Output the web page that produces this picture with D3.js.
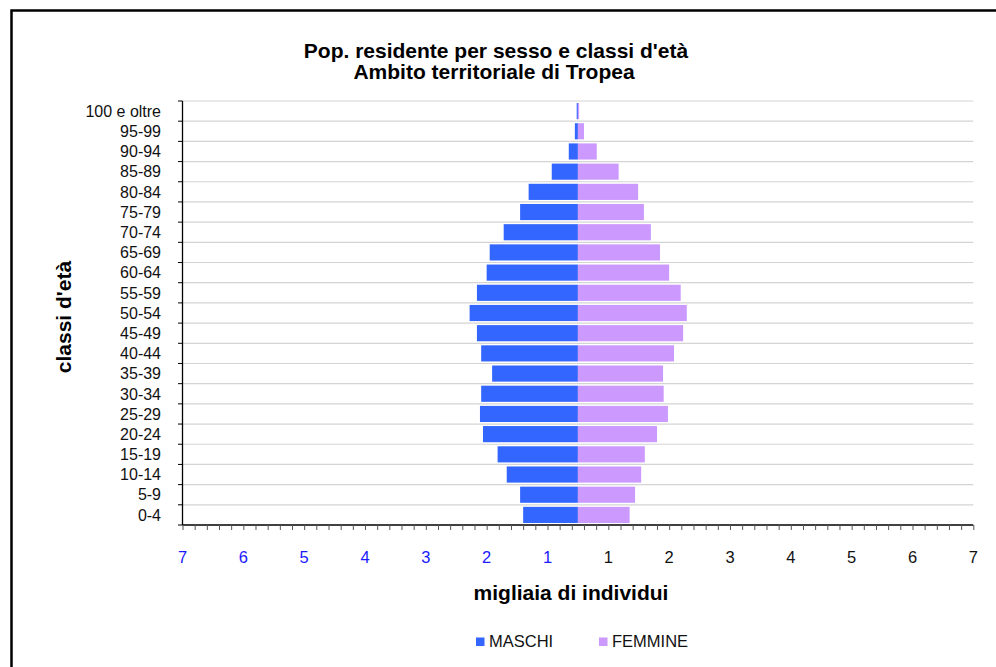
<!DOCTYPE html>
<html>
<head>
<meta charset="utf-8">
<script src="https://cdn.jsdelivr.net/npm/d3@7"></script>
<style>
  html, body { margin: 0; padding: 0; background: #fff; }
  svg { display: block; font-family: "Liberation Sans", Arial, sans-serif; }
</style>
</head>
<body>
<svg id="chart" width="996" height="667"></svg>
<script>
// ---- data (thousands of residents) ----
const ageClasses = ["0-4","5-9","10-14","15-19","20-24","25-29","30-34","35-39","40-44","45-49",
  "50-54","55-59","60-64","65-69","70-74","75-79","80-84","85-89","90-94","95-99","100 e oltre"];
const maschi  = [0.90, 0.95, 1.17, 1.32, 1.56, 1.61, 1.59, 1.41, 1.59, 1.66,
  1.78, 1.66, 1.50, 1.45, 1.22, 0.95, 0.81, 0.43, 0.15, 0.05, 0.02];
const femmine = [0.85, 0.94, 1.04, 1.10, 1.30, 1.48, 1.41, 1.40, 1.58, 1.73,
  1.79, 1.69, 1.50, 1.35, 1.20, 1.085, 0.99, 0.67, 0.31, 0.10, 0.02];
const tickValues = [-6.5,-5.5,-4.5,-3.5,-2.5,-1.5,-0.5,0.5,1.5,2.5,3.5,4.5,5.5,6.5];
const tickLabels = ["7","6","5","4","3","2","1","1","2","3","4","5","6","7"];
const seriesNames = ["MASCHI", "FEMMINE"];
const titleLines = ["Pop. residente per sesso e classi d'età", "Ambito territoriale di Tropea"];
const xTitle = "migliaia di individui";
const yTitle = "classi d'età";

const colors = { MASCHI: "#3366FF", FEMMINE: "#CC99FF" };

const svg = d3.select("#chart");

// frame
svg.append("rect").attr("x", 11.5).attr("y", 10.5).attr("width", 1100).attr("height", 800)
  .attr("fill", "none").attr("stroke", "#000").attr("stroke-width", 2.5);

const pLeft = 182.5, pRight = 973.3, pTop = 101, pBottom = 525;
const x = d3.scaleLinear().domain([-6.5, 6.5]).range([pLeft, pRight]);
const y = d3.scaleBand().domain(ageClasses.slice().reverse()).range([pTop, pBottom])
  .paddingInner(0.2).paddingOuter(0.1);
const step = y.step();

// gridlines at category boundaries
const boundaries = d3.range(0, ageClasses.length).map(i => pTop + i * step);
svg.append("g").selectAll("line").data(boundaries).join("line")
  .attr("x1", pLeft).attr("x2", pRight).attr("y1", d => d).attr("y2", d => d)
  .attr("stroke", "#d4d4d4").attr("stroke-width", 1.2);

// bars
const rows = ageClasses.map((c, i) => ({ c, m: maschi[i], f: femmine[i] }));
svg.append("g").selectAll("rect").data(rows).join("rect")
  .attr("x", d => x(-d.m)).attr("width", d => x(0) - x(-d.m))
  .attr("y", d => y(d.c)).attr("height", y.bandwidth())
  .attr("fill", colors.MASCHI);
svg.append("g").selectAll("rect").data(rows).join("rect")
  .attr("x", x(0)).attr("width", d => x(d.f) - x(0))
  .attr("y", d => y(d.c)).attr("height", y.bandwidth())
  .attr("fill", colors.FEMMINE);

// y axis line + ticks at boundaries
const yAxisG = svg.append("g");
yAxisG.append("line").attr("x1", pLeft).attr("x2", pLeft).attr("y1", pTop).attr("y2", pBottom)
  .attr("stroke", "#000").attr("stroke-width", 1.3);
yAxisG.selectAll("line.t").data(boundaries.concat([pBottom])).join("line").attr("class", "t")
  .attr("x1", pLeft - 4.5).attr("x2", pLeft).attr("y1", d => d).attr("y2", d => d)
  .attr("stroke", "#000").attr("stroke-width", 1);
yAxisG.selectAll("text").data(ageClasses).join("text")
  .attr("x", 161).attr("y", d => y(d) + y.bandwidth() / 2).attr("dy", "0.36em")
  .attr("text-anchor", "end").attr("font-size", 16).attr("fill", "#111").text(d => d);

// x axis: minor ticks
const minor = d3.range(0, 66).map(i => -6.5 + i * 0.2);
const xAxis = d3.axisBottom(x).tickValues(minor).tickSize(5).tickFormat("");
const xg = svg.append("g").attr("transform", `translate(0,${pBottom})`).call(xAxis);
xg.select(".domain").attr("stroke", "#000").attr("stroke-width", 1.5).attr("d", `M${pLeft},0H${pRight}`);
xg.selectAll(".tick line").attr("stroke", "#555").attr("stroke-width", 1);

// x tick labels
svg.append("g").selectAll("text").data(tickValues).join("text")
  .attr("x", d => x(d)).attr("y", 562.5).attr("text-anchor", "middle")
  .attr("font-size", 16.5).attr("fill", d => d < 0 ? "#1a1aff" : "#111")
  .text((d, i) => tickLabels[i]);

// titles
svg.append("text").attr("x", 496).attr("y", 58).attr("text-anchor", "middle")
  .attr("font-size", 21).attr("font-weight", "bold").text(titleLines[0]);
svg.append("text").attr("x", 494).attr("y", 79).attr("text-anchor", "middle")
  .attr("font-size", 21).attr("font-weight", "bold").text(titleLines[1]);
svg.append("text").attr("x", 571).attr("y", 600).attr("text-anchor", "middle")
  .attr("font-size", 21).attr("font-weight", "bold").text(xTitle);
svg.append("text").attr("transform", "translate(71,317) rotate(-90)").attr("text-anchor", "middle")
  .attr("font-size", 21).attr("font-weight", "bold").text(yTitle);

// legend
const legendX = [476, 599];
const lg = svg.append("g").selectAll("g").data(seriesNames).join("g")
  .attr("transform", (d, i) => `translate(${legendX[i]},0)`);
lg.append("rect").attr("x", 0).attr("y", 637.5).attr("width", 8.5).attr("height", 8.5)
  .attr("fill", d => colors[d]);
lg.append("text").attr("x", 13).attr("y", 647).attr("font-size", 16.5).attr("fill", "#111").text(d => d);
</script>
</body>
</html>
